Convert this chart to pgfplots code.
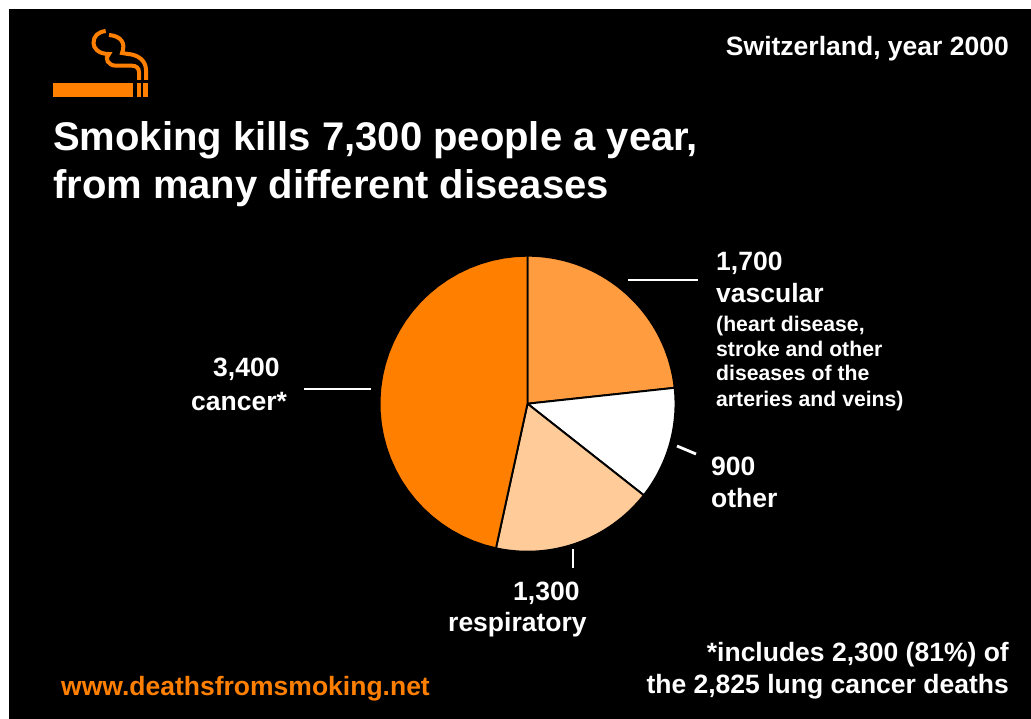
\documentclass[border=0pt]{standalone}
\usepackage{pgfplots}
\pgfplotsset{compat=1.18}
\usepackage{pgfplotstable}
\usepackage{fontspec}
\setmainfont{Liberation Sans}
\definecolor{smokeorange}{HTML}{FF8000}
\definecolor{midorange}{HTML}{FF9C3F}
\definecolor{paleorange}{HTML}{FFCC99}

% Deaths per disease group, clockwise from twelve o'clock
\pgfplotstableread{
group value
vascular 1700
other 900
respiratory 1300
cancer 3400
}\deathtable

\def\pcx{527.5}
\def\pcy{403.7}
\def\prad{148}

% Builds the outline of one slice from its start angle and its value
\newcommand\buildslice[2]{%
  \pgfmathsetmacro\sweep{#2/7300*360}%
  \xdef\slicepts{(\pcx,\pcy)}%
  \foreach \k in {0,...,36}{%
    \pgfmathsetmacro\ang{#1-\sweep*\k/36}%
    \pgfmathsetmacro\px{\pcx+\prad*cos(\ang)}%
    \pgfmathsetmacro\py{\pcy-\prad*sin(\ang)}%
    \xdef\slicepts{\slicepts (\px,\py)}%
  }%
  \xdef\slicepts{\slicepts (\pcx,\pcy)}%
  \pgfmathsetmacro\nextang{#1-\sweep}%
  \xdef\nextstart{\nextang}%
}
\newcommand\drawslice[2]{%
  \pgfplotstablegetelem{#1}{value}\of\deathtable
  \edef\sliceval{\pgfplotsretval}%
  \buildslice{\nextstart}{\sliceval}%
  \edef\slicecmd{\noexpand\addplot[fill=#2,draw=black,line width=1.9pt,line join=round] coordinates {\slicepts};}%
  \slicecmd
}
\newcommand\lab[4][base west]{\node[anchor=#1,inner sep=0pt,text=white,font=#4] at (axis cs:#2) {#3};}
\newcommand\bigtext{\fontsize{26.5}{26.5}\selectfont\bfseries}
\newcommand\smalltext{\fontsize{21.2}{21.2}\selectfont\bfseries}
\newcommand\headtext{\fontsize{40}{40}\selectfont\bfseries}

\begin{document}
\begin{tikzpicture}
\begin{axis}[
  scale only axis, width=1031pt, height=719pt,
  xmin=0, xmax=1031, ymin=0, ymax=719, y dir=reverse,
  axis lines=none, clip=false]

% page frame
\addplot[draw=none,fill=white] coordinates {(0,0)(1031,0)(1031,719)(0,719)};
\addplot[draw=none,fill=black] coordinates {(9,9)(1031,9)(1031,719)(9,719)};

% pie slices
\gdef\nextstart{90}
\drawslice{0}{midorange}
\drawslice{1}{white}
\drawslice{2}{paleorange}
\drawslice{3}{smokeorange}

% leader lines
\addplot[white,line width=2.8pt] coordinates {(628,280)(698,280)};
\addplot[white,line width=2.8pt] coordinates {(304,389)(371,389)};
\addplot[white,line width=2.8pt] coordinates {(677,446)(696,454)};
\addplot[white,line width=2.8pt] coordinates {(573,549)(573,568)};

% cigarette symbol
\fill[smokeorange] (52.7,83) rectangle (132.7,97);
\fill[smokeorange] (136.7,83) rectangle (140.7,97);
\fill[smokeorange] (143.3,83) rectangle (148.3,97);
\draw[smokeorange,line width=4pt,line cap=butt] (146,80) -- (146,70) .. controls (146,60) and (137,54.5) .. (128,54) -- (122,53)
   .. controls (126,43) and (121,36) .. (109,35);
\draw[smokeorange,line width=4pt,line cap=butt] (139,80) -- (139,72) .. controls (139,68) and (136,65.7) .. (132,65.7) -- (116,65.7)
   .. controls (108,65.7) and (104,58) .. (109,54) .. controls (98,54) and (93.5,48) .. (93.5,43)
   .. controls (93.5,36) and (98,32) .. (105.7,31);

% headings
\lab[base east]{1009,56}{Switzerland, year 2000}{\bigtext}
\lab{53,151}{Smoking kills 7,300 people a year,}{\headtext}
\lab{53,199}{from many different diseases}{\headtext}

% slice labels
\lab{716,271}{1,700}{\bigtext}
\lab{716,303}{vascular}{\bigtext}
\lab{716,331}{(heart disease,}{\smalltext}
\lab{716,356}{stroke and other}{\smalltext}
\lab{716,381}{diseases of the}{\smalltext}
\lab{716,406}{arteries and veins)}{\smalltext}
\lab{213,377}{3,400}{\bigtext}
\lab{191,410}{cancer*}{\bigtext}
\lab{711,475}{900}{\bigtext}
\lab{711,507}{other}{\bigtext}
\lab{513,600}{1,300}{\bigtext}
\lab{448,631}{respiratory}{\bigtext}

% footer
\lab[base east]{1009,661}{*includes 2,300 (81\%) of}{\bigtext}
\lab[base east]{1009,693}{the 2,825 lung cancer deaths}{\bigtext}
\node[anchor=base west,inner sep=0pt,text=smokeorange,font=\bigtext] at (axis cs:61,695) {www.deathsfromsmoking.net};
\end{axis}
\end{tikzpicture}
\end{document}
